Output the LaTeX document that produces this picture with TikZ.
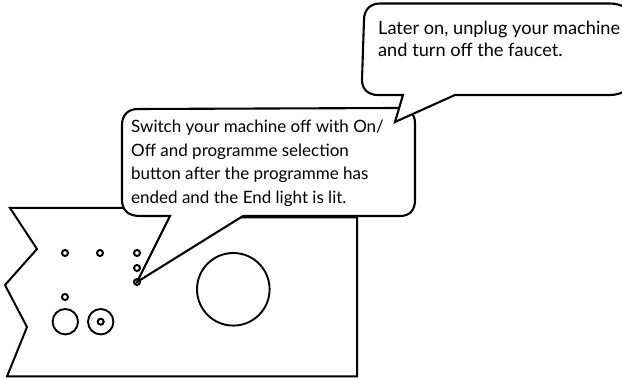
\documentclass[tikz,border=0pt]{standalone}
\usepackage{fontspec}
\setmainfont{Lato}
\tikzset{
  panel/.style={draw, line width=2pt, line join=miter},
  bubble/.style={draw, fill=white, line width=2.1pt, line join=miter},
  lamp/.style={draw, circle, inner sep=0pt, minimum size=6pt, line width=2pt},
  knob/.style={draw, circle, inner sep=0pt, minimum size=25.4pt, line width=1.9pt},
  dial/.style={draw, circle, inner sep=0pt, minimum size=72.6pt, line width=1.9pt},
  note/.style={align=left, inner sep=0pt, anchor=base west},
}

\begin{document}
\begin{tikzpicture}[x=1pt, y=-1pt]
\useasboundingbox (0,0) rectangle (622,379);

% Control panel
\draw[panel] (10,208) -- (200,208) -- (200,217.5) -- (357,217.5) -- (357,376.5)
  -- (7,376.5) -- (27,327) -- (5,285) -- (37,249) -- cycle;
\node[knob] (knobleft) at (65.3,321.7) {};
\node[knob] (knobright) at (100.7,321.7) {};
\node[dial] (drum) at (233.3,289.3) {};

% Speech bubbles
\coordinate (onoff) at (137,282);
\draw[bubble] (243,216) -- (400,216) .. controls (410,216) and (415,210) .. (415,200)
  -- (415,123) .. controls (415,113) and (408,108) .. (398,108) -- (138,109)
  .. controls (128,109) and (122,115) .. (122,125) -- (122,200)
  .. controls (122,210) and (128,216) .. (140,216) -- (170,216) -- (onoff) -- cycle;
\coordinate (corner) at (395,122);
\draw[bubble] (455,95) -- (610,95) .. controls (622,95) and (634,88) .. (634,76)
  -- (634,22) .. controls (634,10) and (622,3.5) .. (610,3.5) -- (380,3.5)
  .. controls (370,3.5) and (364,10) .. (364,20) -- (362,80)
  .. controls (362,89) and (368,95) .. (378,95) -- (403,95) -- (corner) -- cycle;

% Lamps and buttons
\foreach \name/\x/\y in {lampa/65/253, lampb/100/253, lampc/137/253,
    lampd/137/268, lampe/137/282, lampf/65/297, lampg/100.7/321.7}
  \node[lamp] (\name) at (\x,\y) {};

% Texts
\node[note, font=\fontsize{17}{23.7}\selectfont] (offtext) at (131,203.7)
  {Switch your machine off with On/\\Off and programme selection\\button after the programme has\\ended and the End light is lit.};
\node[note, font=\fontsize{18.2}{21.7}\selectfont] (unplugtext) at (378,56.7)
  {Later on, unplug your machine\\and turn off the faucet.};

\end{tikzpicture}
\end{document}
